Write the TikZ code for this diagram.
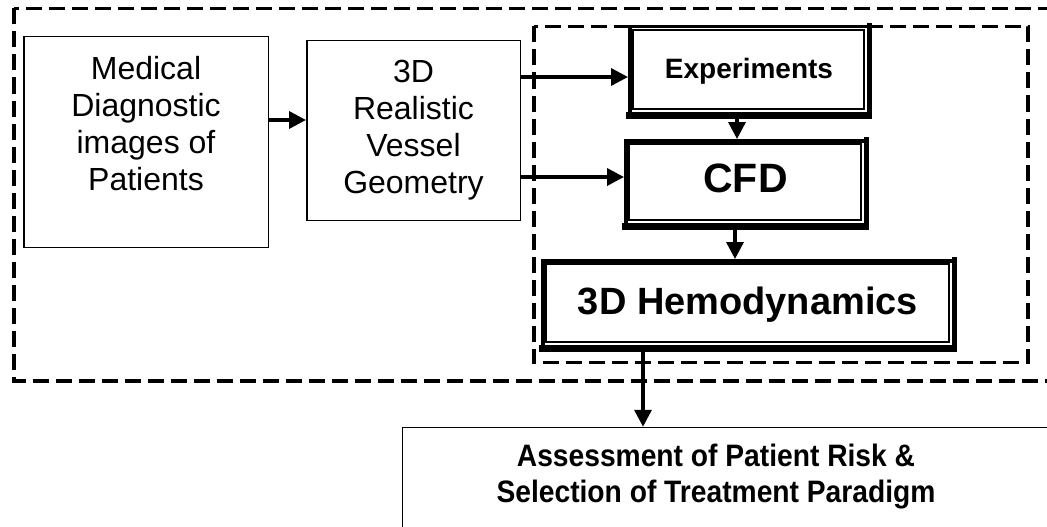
\documentclass[tikz,border=0pt]{standalone}
\usepackage{fontspec}
\setmainfont{Liberation Sans}
\newfontfamily\narrowfont[FakeStretch=0.91]{Liberation Sans}
\usetikzlibrary{arrows.meta}
\begin{document}
\begin{tikzpicture}[x=1pt,y=-1pt,
  plainbox/.style={draw, line width=1.5pt, inner sep=0pt, align=center,
    font=\fontsize{32}{37}\selectfont},
  dblbox/.style={draw, line width=3.5pt, inner sep=0pt, fill=white},
  frame/.style={draw, line width=3.5pt, dash pattern=on 16pt off 7pt},
  arr/.style={line width=3.5pt, -{Triangle[length=17pt,width=17pt]}}]
\useasboundingbox (0,0) rectangle (1047,527);
\clip (0,0) rectangle (1047,527);
\fill[white] (0,0) rectangle (1047,527);
% dashed frames
\draw[frame] (14,8.5) rectangle (1070,381);
\draw[frame] (534,26.5) rectangle (1028,362.5);
% plain boxes
\node[plainbox, minimum width=244.5pt, minimum height=210.5pt] (med) at (146,142)
  {Medical\\Diagnostic\\images of\\Patients\\\mbox{}};
\node[plainbox, minimum width=213.5pt, minimum height=179.5pt] (geom) at (413.5,130.5)
  {3D\\Realistic\\Vessel\\Geometry};
% double boxes
\node[dblbox, minimum width=238.5pt, minimum height=88.5pt,
  font=\bfseries\fontsize{28}{33}\selectfont] (exp) at (749,71) {Experiments};
\node[dblbox, minimum width=239.5pt, minimum height=85.5pt, text depth=11pt,
  font=\bfseries\fontsize{41}{48}\selectfont] (cfd) at (745.5,183.5) {CFD};
\node[dblbox, minimum width=410.5pt, minimum height=87.5pt,
  font=\bfseries\fontsize{38}{44}\selectfont] (hemo) at (748,304.5) {3D Hemodynamics};
\foreach \n in {exp,cfd,hemo}{
  \fill ([shift={(-1.75,1.75)}]\n.south west) rectangle ([shift={(1.75,-5.25)}]\n.south east);
  \fill ([shift={(-3.25,-1.75)}]\n.north east) rectangle ([shift={(1.75,1.75)}]\n.south east);
  \draw[line width=2pt] ([shift={(5.25,5.25)}]\n.north west) rectangle ([shift={(-6.25,-8.25)}]\n.south east);
}
% assessment box
\node[draw, line width=1.5pt, minimum width=700pt, minimum height=150pt, anchor=north west]
  (assess) at (401.75,426.75) {};
\node[align=center, font=\narrowfont\bfseries\fontsize{31}{36}\selectfont] (assesstext) at (716,477)
  {Assessment of Patient Risk \&\\Selection of Treatment Paradigm};
% arrows
\draw[arr] ([yshift=22pt]med.east) -- ([yshift=22pt]med.east -| geom.west);
\draw[arr] ([yshift=-6pt]exp.west -| geom.east) -- ([yshift=-6pt]exp.west);
\draw[arr] ([yshift=6.5pt]cfd.west -| geom.east) -- ([yshift=6.5pt]cfd.west);
\draw[arr] ([xshift=-12pt]exp.south) -- ([xshift=-12pt]exp.south |- cfd.north);
\draw[arr] ([xshift=-10.5pt]cfd.south) -- ([xshift=-10.5pt]cfd.south |- hemo.north);
\draw[arr] ([xshift=-105pt]hemo.south) -- ([xshift=-105pt]hemo.south |- assess.north);
\end{tikzpicture}
\end{document}
